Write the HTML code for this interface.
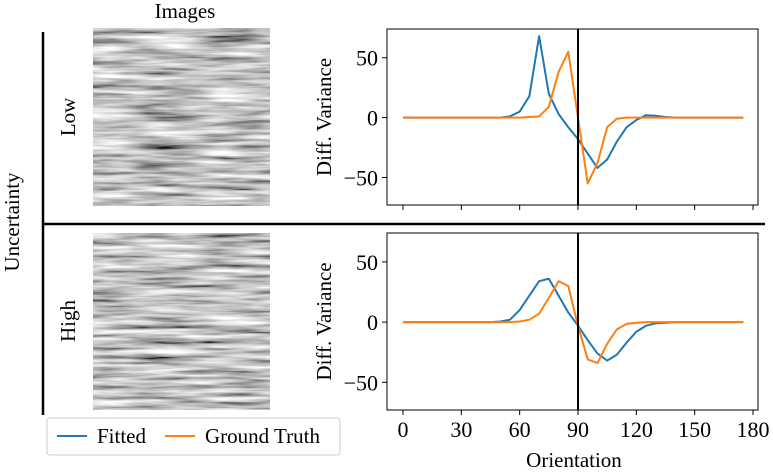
<!DOCTYPE html>
<html><head><meta charset="utf-8"><style>
body{margin:0;background:#fff;}
svg text{font-family:"Liberation Serif",serif;fill:#000;}
</style></head><body>
<svg width="773" height="469" viewBox="0 0 773 469">
<defs>
<filter id="tex" x="0" y="0" width="100%" height="100%">
<feTurbulence type="fractalNoise" baseFrequency="0.015 0.2" numOctaves="3" seed="4"/>
<feColorMatrix type="matrix" values="0 0 0 0 0  0 0 0 0 0  0 0 0 0 0  1.0 0 0 0 0"/>
<feComponentTransfer><feFuncA type="linear" slope="1.5" intercept="-0.2"/></feComponentTransfer>
<feColorMatrix type="matrix" values="0 0 0 1 0  0 0 0 1 0  0 0 0 1 0  0 0 0 0 1"/>
</filter>
<filter id="tex2" x="0" y="0" width="100%" height="100%">
<feTurbulence type="fractalNoise" baseFrequency="0.015 0.2" numOctaves="3" seed="11"/>
<feColorMatrix type="matrix" values="0 0 0 0 0  0 0 0 0 0  0 0 0 0 0  1.0 0 0 0 0"/>
<feComponentTransfer><feFuncA type="linear" slope="1.5" intercept="-0.2"/></feComponentTransfer>
<feColorMatrix type="matrix" values="0 0 0 1 0  0 0 0 1 0  0 0 0 1 0  0 0 0 0 1"/>
</filter>
</defs>
<text x="185" y="18" font-size="21" text-anchor="middle">Images</text>
<rect x="93" y="28" width="177" height="178" fill="#888" filter="url(#tex)"/>
<rect x="93" y="233" width="177" height="177" fill="#888" filter="url(#tex2)"/>
<line x1="43" y1="32" x2="43" y2="415" stroke="#000" stroke-width="2.5"/>
<line x1="43" y1="224" x2="765" y2="224" stroke="#000" stroke-width="2.5"/>
<text transform="translate(19 222) rotate(-90)" font-size="21" text-anchor="middle">Uncertainty</text>
<text transform="translate(75 117) rotate(-90)" font-size="21" text-anchor="middle">Low</text>
<text transform="translate(75 321) rotate(-90)" font-size="21" text-anchor="middle">High</text>
<g id="charts"></g>
<g>
<rect x="47" y="418" width="293" height="37" rx="3" fill="#fff" stroke="#ccc"/>
<line x1="57" y1="436" x2="87" y2="436" stroke="#1f77b4" stroke-width="2"/>
<text x="97" y="443" font-size="21">Fitted</text>
<line x1="165" y1="436" x2="195" y2="436" stroke="#ff7f0e" stroke-width="2"/>
<text x="205" y="443" font-size="21">Ground Truth</text>
</g>
<text x="574" y="467" font-size="21" text-anchor="middle">Orientation</text>
</svg>
<script>
const orientations = [0,5,10,15,20,25,30,35,40,45,50,55,60,65,70,75,80,85,90,95,100,105,110,115,120,125,130,135,140,145,150,155,160,165,170,175];
const lowFitted = [0,0,0,0,0,0,0,0,0,0,0,1,5,18,68,20,3,-8,-18,-30,-42,-35,-20,-8,-2,2,1.5,0.5,0,0,0,0,0,0,0,0];
const lowTruth = [0,0,0,0,0,0,0,0,0,0,0,0,0,0.5,1,9,38,55,0,-55,-38,-8,-1,0,0,0,0,0,0,0,0,0,0,0,0,0];
const highFitted = [0,0,0,0,0,0,0,0,0,0,0.5,2,10,22,34,36,22,8,-3,-15,-26,-32,-27,-17,-8,-3,-1,-0.5,0,0,0,0,0,0,0,0];
const highTruth = [0,0,0,0,0,0,0,0,0,0,0,0,0.5,2,7,20,34,30,-3,-31,-34,-18,-6,-1.5,-0.5,0,0,0,0,0,0,0,0,0,0,0];
const xTicks = [0,30,60,90,120,150,180];
const yTicks = [-50,0,50];
const NS="http://www.w3.org/2000/svg";
const g=document.getElementById('charts');
const X0=387,X1=758;
const xs=v=>403+v*(175/90);
function el(t,a){const e=document.createElementNS(NS,t);for(const k in a)e.setAttribute(k,a[k]);g.appendChild(e);return e;}
function panel(top,bottom,fit,truth,name,showX){
  const ys=v=>top+(74-v)*(bottom-top)/147;
  const r=el('rect',{x:X0,y:top,width:X1-X0,height:bottom-top,fill:'none',stroke:'#000','stroke-width':1});
  
  
  yTicks.forEach(t=>{
    const l=el('line',{x1:X0-5,x2:X0,y1:ys(t),y2:ys(t),stroke:'#000'});
    
    
    const tx=el('text',{x:X0-9,y:ys(t)+8,'font-size':22,'text-anchor':'end'});
    tx.textContent=t<0?'\u2212'+Math.abs(t):t;
    
    
  });
  xTicks.forEach(t=>{
    const l=el('line',{x1:xs(t),x2:xs(t),y1:bottom,y2:bottom+5,stroke:'#000'});
    
    
    if(showX){const tx=el('text',{x:xs(t),y:bottom+27,'font-size':22,'text-anchor':'middle'});tx.textContent=t;
      
      }
  });
  const yl=el('text',{transform:`translate(331 ${(top+bottom)/2}) rotate(-90)`,'font-size':21,'text-anchor':'middle'});
  yl.textContent='Diff.  Variance';
  
  
  [[fit,'#1f77b4','fitted'],[truth,'#ff7f0e','ground-truth']].forEach(([d,c,n])=>{
    const p=el('polyline',{points:d.map((v,i)=>xs(orientations[i])+','+ys(v)).join(' '),fill:'none',stroke:c,'stroke-width':2,'stroke-linejoin':'round'});
    
    
  });
  const v=el('line',{x1:xs(90),x2:xs(90),y1:top,y2:bottom,stroke:'#000','stroke-width':2});
  
  
}
panel(29,205,lowFitted,lowTruth,'low',false);
panel(233,410,highFitted,highTruth,'high',true);
</script>
</body></html>
